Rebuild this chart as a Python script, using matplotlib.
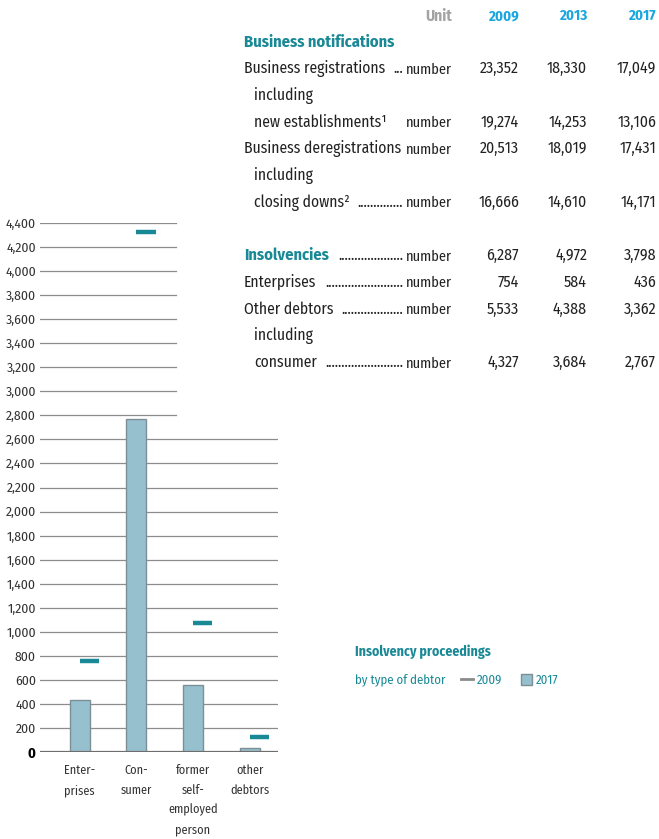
import matplotlib.pyplot as plt
from matplotlib.lines import Line2D
from matplotlib.patches import Patch

# chart data: insolvency proceedings by type of debtor
categories = ["Enter-\nprises", "Con-\nsumer", "former\nself-\nemployed\nperson", "other\ndebtors"]
vals_2017 = [436, 2767, 560, 35]
vals_2009 = [754, 4327, 1075, 125]
yticks = list(range(0, 4401, 200))

# table data
years = ["2009", "2013", "2017"]
rows = [
    # (label, indent, unit, values, style, leader dots)
    ("Business notifications", 0, "", None, "head", False),
    ("Business registrations", 0, "number", ["23,352", "18,330", "17,049"], "normal", True),
    ("including", 1, "", None, "normal", False),
    ("new establishments\u00b9", 1, "number", ["19,274", "14,253", "13,106"], "normal", False),
    ("Business deregistrations", 0, "number", ["20,513", "18,019", "17,431"], "normal", False),
    ("including", 1, "", None, "normal", False),
    ("closing downs\u00b2", 1, "number", ["16,666", "14,610", "14,171"], "normal", True),
    ("", 0, "", None, "normal", False),
    ("Insolvencies", 0, "number", ["6,287", "4,972", "3,798"], "head", True),
    ("Enterprises", 0, "number", ["754", "584", "436"], "normal", True),
    ("Other debtors", 0, "number", ["5,533", "4,388", "3,362"], "normal", True),
    ("including", 1, "", None, "normal", False),
    ("consumer", 1, "number", ["4,327", "3,684", "2,767"], "normal", True),
]

teal = "#1a8996"
bar_fill = "#97c0ce"
bar_edge = "#7d8f96"
grid_col = "#8c8c8c"
text_col = "#222222"

plt.rcParams['font.family'] = ['Fira Sans Condensed', 'DejaVu Sans']

W, H = 659, 839
fig = plt.figure(figsize=(W / 100, H / 100), dpi=100)
renderer = fig.canvas.get_renderer()

def px(x, y):
    return x / W, 1 - y / H

ax = fig.add_axes([40 / W, 87 / H, 238 / W, 529 / H])
x = list(range(len(categories)))
ax.bar(x, vals_2017, width=0.35, color=bar_fill, edgecolor=bar_edge, linewidth=1, zorder=3)
mx = [i + 0.17 for i in x]
ax.hlines(vals_2009, [m - 0.17 for m in mx], [m + 0.17 for m in mx], color=teal, linewidth=3.2, zorder=4)

ax.set_xlim(-0.7, 3.5)
ax.set_ylim(0, 4400)
for s in ax.spines.values():
    s.set_visible(False)

# gridlines: the upper ones stop short where the table sits
for v in yticks[1:]:
    xmax = 1.0 if v <= 2600 else 0.572
    ax.axhline(v, xmin=0, xmax=xmax, color=grid_col, linewidth=0.9, zorder=1)
ax.axhline(0, color="#6e6e6e", linewidth=1.6, zorder=5)

ax.set_yticks(yticks)
ax.set_yticklabels([f"{v:,}" for v in yticks], fontsize=9.8, color="#333333")
ax.get_yticklabels()[0].set_fontweight("bold")
ax.get_yticklabels()[0].set_color("#000000")
ax.get_yticklabels()[0].set_fontsize(10.5)
ax.tick_params(axis="y", length=0, pad=3)
ax.set_xticks(x)
ax.set_xticklabels(categories, fontsize=8.8, color="#333333", linespacing=1.72, va="top")
ax.tick_params(axis="x", length=0, pad=9)

# table
fs = 11.2
col_unit = 452
col_years = [519, 587, 656]
dots_end = 403
fig.text(*px(col_unit, 16), "Unit", ha="right", va="center", fontsize=fs, color="#a3a3a3", fontweight="bold")
for xx, yr in zip(col_years, years):
    fig.text(*px(xx, 16), yr, ha="right", va="center", fontsize=fs - 0.5, color="#1aa7e0", fontweight="bold")

dot_w = fig.text(0, 0, "..........", fontsize=fs).get_window_extent(renderer).width / 10
fig.texts[-1].remove()

y0, dy = 42, 26.7
for i, (label, indent, unit, vals, style, dots) in enumerate(rows):
    yy = y0 + i * dy
    lx = 244 + indent * 10
    if style == "head":
        t = fig.text(*px(lx, yy), label, ha="left", va="center", fontsize=fs + 0.6, color=teal, fontweight="bold")
    else:
        t = fig.text(*px(lx, yy), label, ha="left", va="center", fontsize=fs, color=text_col)
    if dots:
        x_end = t.get_window_extent(renderer).x1
        n = int((dots_end - x_end - 6) / dot_w)
        fig.text(*px(dots_end, yy), "." * n, ha="right", va="center", fontsize=fs, color=text_col)
    if unit:
        fig.text(*px(col_unit, yy + 1), unit, ha="right", va="center", fontsize=fs - 0.8, color=text_col)
    if vals:
        for xx, v in zip(col_years, vals):
            fig.text(*px(xx, yy), v, ha="right", va="center", fontsize=fs + 0.2, color=text_col)

# legend
fig.text(*px(355, 652), "Insolvency proceedings", ha="left", va="center", fontsize=9.9, color=teal, fontweight="bold")
fig.text(*px(355, 680), "by type of debtor", ha="left", va="center", fontsize=9.2, color=teal)
handles = [Line2D([], [], color="#8a8a8a", linewidth=2),
           Patch(facecolor=bar_fill, edgecolor=bar_edge)]
fig.legend(handles, ["2009", "2017"], loc="center left", bbox_to_anchor=px(461, 680), ncol=2,
           frameon=False, fontsize=9.2, labelcolor=teal, handlelength=0.9, handleheight=0.9,
           handletextpad=0.3, columnspacing=1.5, borderpad=0, borderaxespad=0)

fig.savefig("out.png", dpi=100)
